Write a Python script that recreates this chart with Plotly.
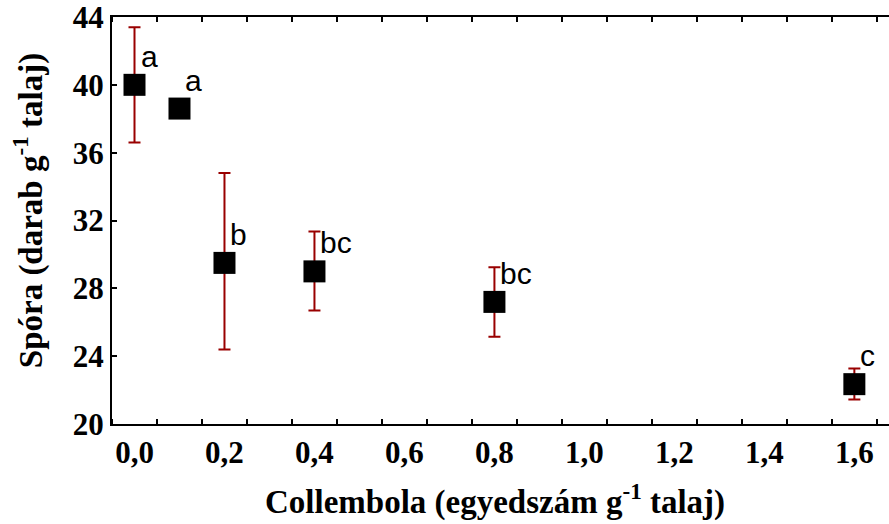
import plotly.graph_objects as go

# Spore counts by Collembola density (mean with error bars) and significance groups
conc = [0.0, 0.1, 0.2, 0.4, 0.8, 1.6]
spora = [40.0, 38.6, 29.5, 29.0, 27.2, 22.35]
err_plus = [3.4, 0.4, 5.3, 2.35, 2.05, 0.92]
err_minus = [3.4, 0.4, 5.1, 2.3, 2.05, 0.9]
groups = ["a", "a", "b", "bc", "bc", "c"]

x_tickvals = [0.0, 0.2, 0.4, 0.6, 0.8, 1.0, 1.2, 1.4, 1.6]
x_ticktext = ["0,0", "0,2", "0,4", "0,6", "0,8", "1,0", "1,2", "1,4", "1,6"]
y_tickvals = [20, 24, 28, 32, 36, 40, 44]

serif = "Liberation Serif"
sans = "Liberation Sans"

fig = go.Figure()
fig.add_trace(go.Scatter(
    x=conc, y=spora, mode="markers",
    marker=dict(symbol="square", size=22, color="black"),
    error_y=dict(type="data", symmetric=False, array=err_plus, arrayminus=err_minus,
                 color="#990000", thickness=2, width=6),
    showlegend=False,
))

# group letters placed just above-right of each mean
for xv, yv, g in zip(conc, spora, groups):
    fig.add_annotation(x=xv, y=yv, text=g, showarrow=False,
                       xanchor="left", yanchor="bottom", xshift=4, yshift=10,
                       font=dict(family=sans, size=30, color="black"))

# axis titles
fig.add_annotation(xref="paper", yref="paper", x=0.493, y=-0.186,
                   text="Collembola (egyedszám g<sup>-1</sup> talaj)", showarrow=False,
                   xanchor="center", yanchor="middle",
                   font=dict(family=serif, size=33, color="black", weight="bold"))
fig.add_annotation(xref="paper", yref="paper", x=-0.108, y=0.523, textangle=-90,
                   text="Spóra (darab g<sup>-1</sup> talaj)", showarrow=False,
                   xanchor="center", yanchor="middle",
                   font=dict(family=serif, size=33, color="black", weight="bold"))

fig.update_layout(
    width=889, height=524,
    margin=dict(l=112, r=0, t=15, b=100),
    paper_bgcolor="white", plot_bgcolor="white",
    xaxis=dict(
        range=[-0.05, 1.677], tickmode="array", tickvals=x_tickvals, ticktext=x_ticktext,
        ticks="", showgrid=False, zeroline=False,
        showline=True, linewidth=2, linecolor="black", mirror="ticks",
        minor=dict(ticks="inside", tick0=0.05, dtick=0.1, ticklen=5, tickwidth=2,
                   tickcolor="black", showgrid=False),
        tickfont=dict(family=serif, size=31, color="black", weight="bold"),
        ticklabeloverflow="allow",
    ),
    yaxis=dict(
        range=[20, 44], tickmode="array", tickvals=y_tickvals,
        ticks="inside", ticklen=5, tickwidth=2, tickcolor="black",
        showgrid=False, zeroline=False,
        showline=True, linewidth=2, linecolor="black",
        tickfont=dict(family=serif, size=31, color="black", weight="bold"),
        ticklabeloverflow="allow",
    ),
)

fig.write_html("out.html")
